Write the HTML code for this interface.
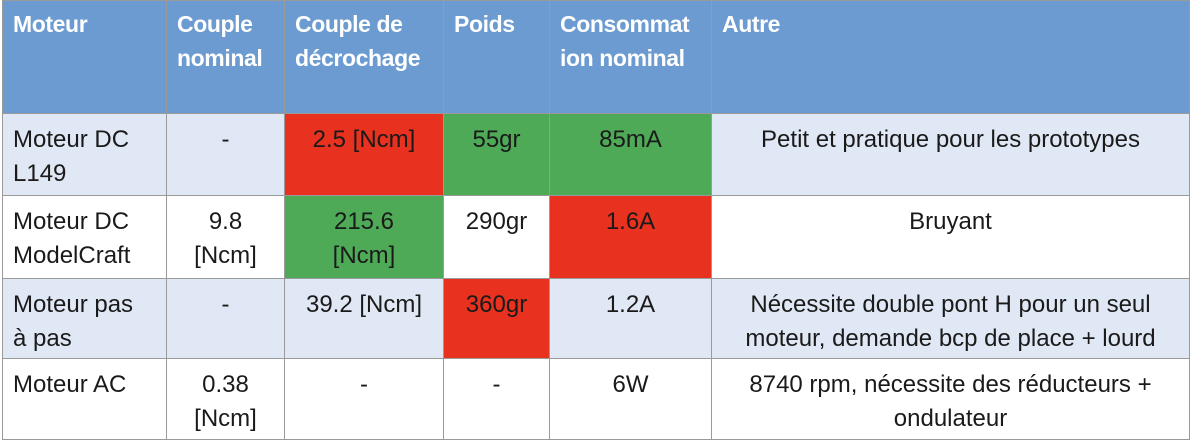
<!DOCTYPE html>
<html><head><meta charset="utf-8"><style>
body{margin:0;width:1190px;height:442px;background:#fff;overflow:hidden}
.c{position:absolute;box-sizing:border-box;border:1px solid #9a9a9a;font-family:"Liberation Sans",sans-serif;font-size:24px;line-height:34px;color:#1a1a1a;padding:9px 4px 0 10px;letter-spacing:0px;white-space:nowrap}
.h{background:#6b9bd0;color:#fff;font-weight:bold;font-size:23px;padding-top:6px;letter-spacing:-0.4px}
.m{text-align:center;padding-left:2px;padding-right:2px}
.l{background:#dfe8f4}.w{background:#fff}.r{background:#e8311f}.g{background:#4eaa57}
</style></head><body>
<div style="position:relative;width:1190px;height:442px">
<script>
const xs=[2,166,284,443,549,711,1189];
const ys=[0,113,195,278,358,439];
const rows=[
 [["Moteur","h"],["Couple nominal","h"],["Couple de décrochage","h"],["Poids","h"],["Consommat ion nominal","h"],["Autre","h"]],
 [["Moteur DC<br>L149","l"],["-","l m"],["2.5 [Ncm]","r m"],["55gr","g m"],["85mA","g m"],["Petit et pratique pour les prototypes","l m"]],
 [["Moteur DC<br>ModelCraft","w"],["9.8<br>[Ncm]","w m"],["215.6<br>[Ncm]","g m"],["290gr","w m"],["1.6A","r m"],["Bruyant","w m"]],
 [["Moteur pas<br>à pas","l"],["-","l m"],["39.2 [Ncm]","l m"],["360gr","r m"],["1.2A","l m"],["Nécessite double pont H pour un seul<br>moteur, demande bcp de place + lourd","l m"]],
 [["Moteur AC","w"],["0.38<br>[Ncm]","w m"],["-","w m"],["-","w m"],["6W","w m"],["8740 rpm, nécessite des réducteurs +<br>ondulateur","w m"]]
];
const heads=["Moteur","Couple<br>nominal","Couple de<br>décrochage","Poids","Consommat<br>ion nominal","Autre"];
const root=document.currentScript.parentNode;
rows.forEach((row,ri)=>row.forEach((cell,ci)=>{
 const d=document.createElement('div');
 d.className='c '+cell[1];
 d.style.left=xs[ci]+'px';d.style.top=ys[ri]+'px';
 d.style.width=(xs[ci+1]-xs[ci]+1)+'px';d.style.height=(ys[ri+1]-ys[ri]+1)+'px';
 d.innerHTML=ri===0?heads[ci]:cell[0];
 
 
 root.appendChild(d);
}));
</script>
</div>
</body></html>
